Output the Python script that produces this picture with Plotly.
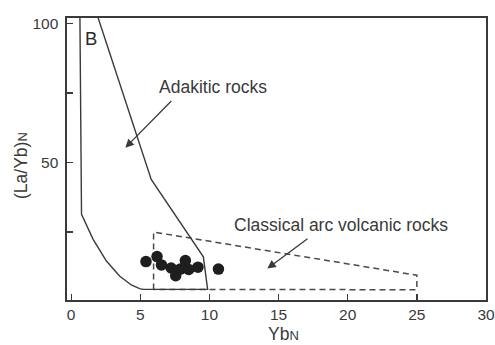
import plotly.graph_objects as go

# --- data ---
adak_x = [0.63, 0.75, 1.59, 2.55, 3.5, 4.35, 4.95, 5.2, 9.87, 9.56, 5.79, 1.75]
adak_y = [105, 31.4, 22.4, 14.6, 9.2, 6.0, 4.7, 4.4, 4.4, 16.1, 43.9, 105]

arc_x = [5.96, 5.96, 25.0, 25.0, 5.96]
arc_y = [4.4, 25.0, 9.5, 4.3, 4.4]

sample_x = [5.41, 6.21, 6.53, 7.23, 7.56, 7.89, 8.26, 8.5, 9.17, 10.65]
sample_y = [14.4, 16.2, 13.2, 12.1, 9.3, 11.7, 14.8, 11.6, 12.4, 11.7]

x_ticks = [0, 5, 10, 15, 20, 25, 30]
y_ticks = [0, 25, 50, 75, 100]
y_ticktext = ["0", "", "50", "", "100"]

LINE = "#3a3a3a"
TXT = "#3a3a3a"
FONT = "Arial, Liberation Sans, sans-serif"

W, H = 495, 345
L, R, T, B = 67, 9, 18, 45
pw, ph = W - L - R, H - T - B

fig = go.Figure()
fig.add_trace(go.Scatter(x=arc_x, y=arc_y, mode="lines",
                         line=dict(color="#4a4a4a", width=1.5, dash="6px,4px"),
                         hoverinfo="skip"))
fig.add_trace(go.Scatter(x=adak_x, y=adak_y, mode="lines",
                         line=dict(color=LINE, width=1.4), hoverinfo="skip"))
fig.add_trace(go.Scatter(x=sample_x, y=sample_y, mode="markers",
                         marker=dict(color="#1e1e1e", size=11.5, line=dict(width=0))))

ann = []
ann.append(dict(x=1.45, y=94.5, xref="x", yref="y", text="B", showarrow=False,
                font=dict(size=18.5, color="#2a2a2a", family=FONT)))
ann.append(dict(x=10.25, y=77.2, xref="x", yref="y", text="Adakitic rocks", showarrow=False,
                font=dict(size=17.5, color=TXT, family=FONT)))
ann.append(dict(x=3.92, y=55.3, ax=7.35, ay=72.6, xref="x", yref="y", axref="x", ayref="y",
                text="", showarrow=True, arrowhead=2, arrowsize=1.3, arrowwidth=1.3,
                arrowcolor=LINE))
ann.append(dict(x=19.5, y=27.7, xref="x", yref="y", text="Classical arc volcanic rocks",
                showarrow=False, font=dict(size=17.5, color=TXT, family=FONT)))
ann.append(dict(x=14.19, y=11.9, ax=17.2, ay=23.0, xref="x", yref="y", axref="x", ayref="y",
                text="", showarrow=True, arrowhead=2, arrowsize=1.3, arrowwidth=1.3,
                arrowcolor=LINE))
# axis titles (window pixel positions, converted to paper coords below)
ann.append(dict(x=283, y=334, xref="paper", yref="paper",
                text="Yb<span style='font-size:13px'>N</span>",
                showarrow=False, xanchor="center", yanchor="middle",
                font=dict(size=17.5, color=TXT, family=FONT)))
ann.append(dict(x=21, y=166, xref="paper", yref="paper",
                text="(La/Yb)<span style='font-size:13px'>N</span>",
                showarrow=False, textangle=-90, xanchor="center", yanchor="middle",
                font=dict(size=17.5, color=TXT, family=FONT)))

for a in ann[-2:]:
    a["x"] = (a["x"] - L) / pw
    a["y"] = (H - B - a["y"]) / ph

fig.update_layout(
    width=W, height=H,
    margin=dict(l=L, r=R, t=T, b=B, autoexpand=False),
    paper_bgcolor="white", plot_bgcolor="white",
    showlegend=False,
    annotations=ann,
    font=dict(family=FONT, size=15, color=TXT),
)
fig.update_xaxes(range=[-0.3, 30.0], tickvals=x_ticks, ticks="inside", ticklen=6,
                 tickcolor=LINE, tickwidth=1.3, showgrid=False, zeroline=False,
                 showline=True, linecolor=LINE, linewidth=1.6, mirror=True, automargin=False,
                 tickfont=dict(size=15.5, color=TXT, family=FONT))
fig.update_yaxes(range=[0.6, 101.9], tickvals=y_ticks, ticktext=y_ticktext, ticks="inside",
                 ticklen=6, tickcolor=LINE, tickwidth=1.3, showgrid=False, zeroline=False,
                 showline=True, linecolor=LINE, linewidth=1.6, mirror=True, automargin=False,
                 ticklabelstandoff=4,
                 tickfont=dict(size=15.5, color=TXT, family=FONT))

fig.write_html("out.html",
               config={"displayModeBar": False, "staticPlot": True},
               post_script="document.body.style.margin='0';document.body.style.overflow='hidden';")
